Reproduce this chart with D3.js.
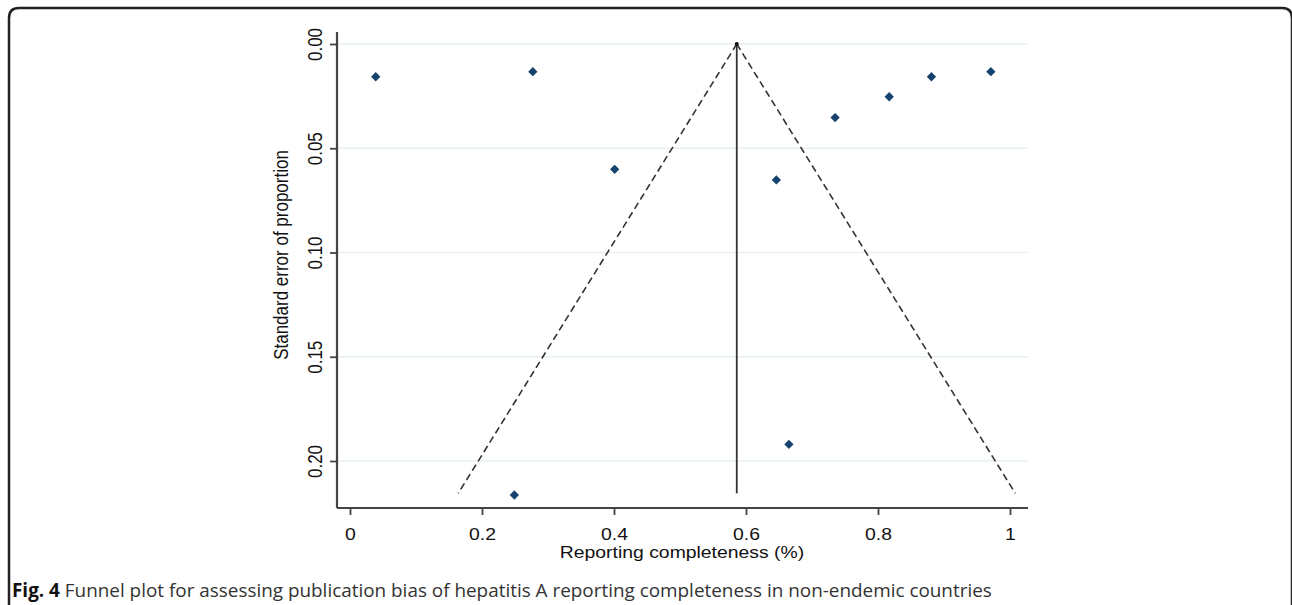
<!DOCTYPE html>
<html>
<head>
<meta charset="utf-8">
<script src="https://cdn.jsdelivr.net/npm/d3@7"></script>
<style>
  body { margin: 0; background: #fff; }
  svg { display: block; }
  .tick text { font-family: "Liberation Sans", Arial, sans-serif; }
</style>
</head>
<body>
<svg id="chart" width="1292" height="605"></svg>
<script>
// studies: proportion and its standard error
let completeness = [0.039, 0.277, 0.401, 0.646, 0.735, 0.817, 0.881, 0.971, 0.249, 0.665];
let stdErr       = [0.0157, 0.0133, 0.0601, 0.0652, 0.0353, 0.0253, 0.0157, 0.0133, 0.2163, 0.1920];

// pooled estimate and pseudo 95% limits (funnel)
let funnelSE    = [0, 0.2155];
let funnelLower = [0.586, 0.164];
let funnelUpper = [0.586, 1.008];

let xTicks = [0, 0.2, 0.4, 0.6, 0.8, 1];
let yTicks = [0, 0.05, 0.10, 0.15, 0.20];

let svg = d3.select("#chart");
let stretch = 1.14; // the source picture is a bit wider than tall

// outer frame
svg.append("path")
  .attr("d", "M9,605 L9,18 Q9,8 19,8 L1282,8 Q1292,8 1292,18 L1292,605")
  .attr("fill", "none")
  .attr("stroke", "#222")
  .attr("stroke-width", 2.5);

let x = d3.scaleLinear().domain([0, 1]).range([350, 1010]);
let y = d3.scaleLinear().domain([0, 0.2]).range([44, 461]);

let plotLeft = 337, plotRight = 1028, plotTop = 32, plotBottom = 508;

// grid lines
svg.append("g")
  .selectAll("line")
  .data(yTicks)
  .enter()
  .append("line")
  .attr("x1", plotLeft).attr("x2", plotRight)
  .attr("y1", d => y(d)).attr("y2", d => y(d))
  .attr("stroke", "#e6f0f2")
  .attr("stroke-width", 1.5);

// axes
let xAxis = svg.append("g")
  .attr("transform", `translate(0,${plotBottom})`)
  .call(d3.axisBottom(x).tickValues(xTicks).tickSize(7).tickPadding(13)
    .tickFormat(d => d === 0 || d === 1 ? d3.format("d")(d) : d3.format(".1f")(d)));
xAxis.select(".domain").attr("d", `M${plotLeft},0H${plotRight}`);

let yAxis = svg.append("g")
  .attr("transform", `translate(${plotLeft},0)`)
  .call(d3.axisLeft(y).tickValues(yTicks).tickSize(7).tickFormat(d3.format(".2f")));
yAxis.select(".domain").attr("d", `M0,${plotTop}V${plotBottom}`);

svg.selectAll(".domain").attr("stroke", "#444").attr("stroke-width", 2.2);
svg.selectAll(".tick line").attr("stroke", "#444").attr("stroke-width", 1.8);
xAxis.selectAll(".tick text")
  .attr("font-size", 17)
  .attr("fill", "#111")
  .attr("transform", `scale(${stretch},1)`);
yAxis.selectAll(".tick text")
  .attr("font-size", 17)
  .attr("fill", "#111")
  .attr("text-anchor", "middle")
  .attr("x", null).attr("dy", null)
  .attr("transform", `translate(-15,0) scale(${stretch},1) rotate(-90)`);

// axis titles
svg.append("text")
  .attr("transform", `translate(288,255) scale(${stretch},1) rotate(-90)`)
  .attr("text-anchor", "middle")
  .style("font-family", "Liberation Sans, Arial, sans-serif")
  .style("font-size", "17px")
  .attr("fill", "#111")
  .text("Standard error of proportion");

svg.append("text")
  .attr("transform", `translate(682,558) scale(${stretch},1)`)
  .attr("text-anchor", "middle")
  .style("font-family", "Liberation Sans, Arial, sans-serif")
  .style("font-size", "17px")
  .attr("fill", "#111")
  .text("Reporting completeness (%)");

// pooled estimate line
svg.append("line")
  .attr("x1", x(funnelLower[0])).attr("x2", x(funnelLower[0]))
  .attr("y1", y(funnelSE[0])).attr("y2", y(funnelSE[1]))
  .attr("stroke", "#333")
  .attr("stroke-width", 1.8);

// funnel limits
let line = d3.line().x(d => x(d[0])).y(d => y(d[1]));
[funnelLower, funnelUpper].forEach(function(bound){
  svg.append("path")
    .attr("d", line(bound.map((v, i) => [v, funnelSE[i]])))
    .attr("fill", "none")
    .attr("stroke", "#333")
    .attr("stroke-width", 1.6)
    .attr("stroke-dasharray", "7,4");
});

svg.append("circle")
  .attr("cx", x(funnelLower[0])).attr("cy", y(0))
  .attr("r", 2)
  .attr("fill", "#111");

// study markers
svg.append("g")
  .selectAll("path")
  .data(completeness)
  .enter()
  .append("path")
  .attr("d", d3.symbol().type(d3.symbolDiamond2).size(55))
  .attr("transform", (d, i) => `translate(${x(d)},${y(stdErr[i])})`)
  .attr("fill", "#15426e");

// caption
let cap = svg.append("text")
  .attr("x", 12).attr("y", 597)
  .style("font-family", "Open Sans, sans-serif")
  .style("font-size", "18.9px")
  .attr("fill", "#333");
cap.append("tspan").attr("font-weight", "bold").attr("fill", "#111").text("Fig. 4");
cap.append("tspan").text(" Funnel plot for assessing publication bias of hepatitis A reporting completeness in non-endemic countries");
</script>
</body>
</html>
